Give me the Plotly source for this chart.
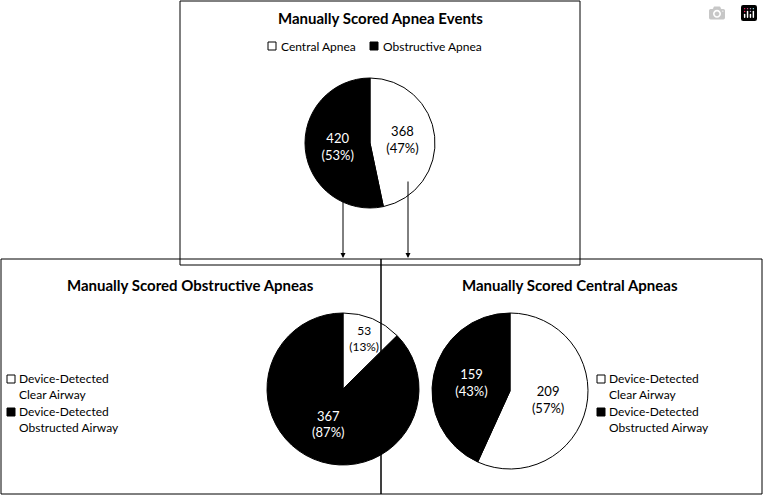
import plotly.graph_objects as go

W, H = 763, 495

top_labels = ["Central Apnea", "Obstructive Apnea"]
top_values = [368, 420]
obs_labels = ["Device-Detected Clear Airway", "Device-Detected Obstructed Airway"]
obs_values = [53, 367]
cen_labels = ["Device-Detected Clear Airway", "Device-Detected Obstructed Airway"]
cen_values = [209, 159]

FONT = "Lato"


def px(x):
    return x / W


def py(y):
    return 1 - y / H


def pie(labels, values, x0, x1, y0, y1):
    return go.Pie(
        labels=labels, values=values, sort=False, direction="clockwise", rotation=0,
        marker=dict(colors=["white", "black"], line=dict(color="black", width=1)),
        texttemplate="%{value}<br>(%{percent:.0%})", textposition="inside",
        insidetextfont=dict(color=["black", "white"], size=13, family=FONT),
        insidetextorientation="horizontal",
        domain=dict(x=[px(x0), px(x1)], y=[py(y1), py(y0)]),
        showlegend=False, hoverinfo="label+value+percent",
    )


fig = go.Figure()
fig.add_trace(pie(top_labels, top_values, 305, 435, 78, 208))
fig.add_trace(pie(obs_labels, obs_values, 267, 419, 313, 465))
fig.add_trace(pie(cen_labels, cen_values, 432, 588, 313, 469))

shapes = []
for x0, y0, x1, y1 in [(180, 1, 580, 265), (1, 259, 381, 494), (381, 259, 762, 494)]:
    shapes.append(dict(type="rect", xref="paper", yref="paper", x0=px(x0), x1=px(x1),
                       y0=py(y1), y1=py(y0), line=dict(color="black", width=1), fillcolor="rgba(0,0,0,0)"))

annotations = []


def text(x, y, s, size=12, bold=False, anchor="left"):
    annotations.append(dict(xref="paper", yref="paper", x=px(x), y=py(y), text=f"<b>{s}</b>" if bold else s,
                            showarrow=False, xanchor=anchor, yanchor="middle", align="left",
                            font=dict(family=FONT, size=size, color="black")))


def square(x, y, fill):
    shapes.append(dict(type="rect", xref="paper", yref="paper", x0=px(x - 4), x1=px(x + 4),
                       y0=py(y + 4), y1=py(y - 4), line=dict(color="black", width=1), fillcolor=fill))


text(380, 18, "Manually Scored Apnea Events", 15, True, "center")
text(190, 285, "Manually Scored Obstructive Apneas", 15, True, "center")
text(570, 285, "Manually Scored Central Apneas", 15, True, "center")

square(272, 46, "white"); text(279, 46, top_labels[0])
square(374, 46, "black"); text(381, 46, top_labels[1])

square(11, 379, "white"); text(17, 386, "Device-Detected<br>Clear Airway")
square(11, 412, "black"); text(17, 419, "Device-Detected<br>Obstructed Airway")
square(601, 379, "white"); text(607, 386, "Device-Detected<br>Clear Airway")
square(601, 412, "black"); text(607, 419, "Device-Detected<br>Obstructed Airway")

for x, ytop in [(343, 190), (408, 180)]:
    annotations.append(dict(xref="paper", yref="paper", x=px(x), y=py(258), ax=0, ay=-(258 - ytop),
                            showarrow=True, arrowhead=2, arrowsize=1, arrowwidth=1, arrowcolor="black", text=""))

fig.update_layout(width=W, height=H, margin=dict(l=0, r=0, t=0, b=0), paper_bgcolor="white",
                  shapes=shapes, annotations=annotations, font=dict(family=FONT))
fig.write_html("out.html", post_script="document.body.style.margin='0';document.body.style.overflow='hidden';")
